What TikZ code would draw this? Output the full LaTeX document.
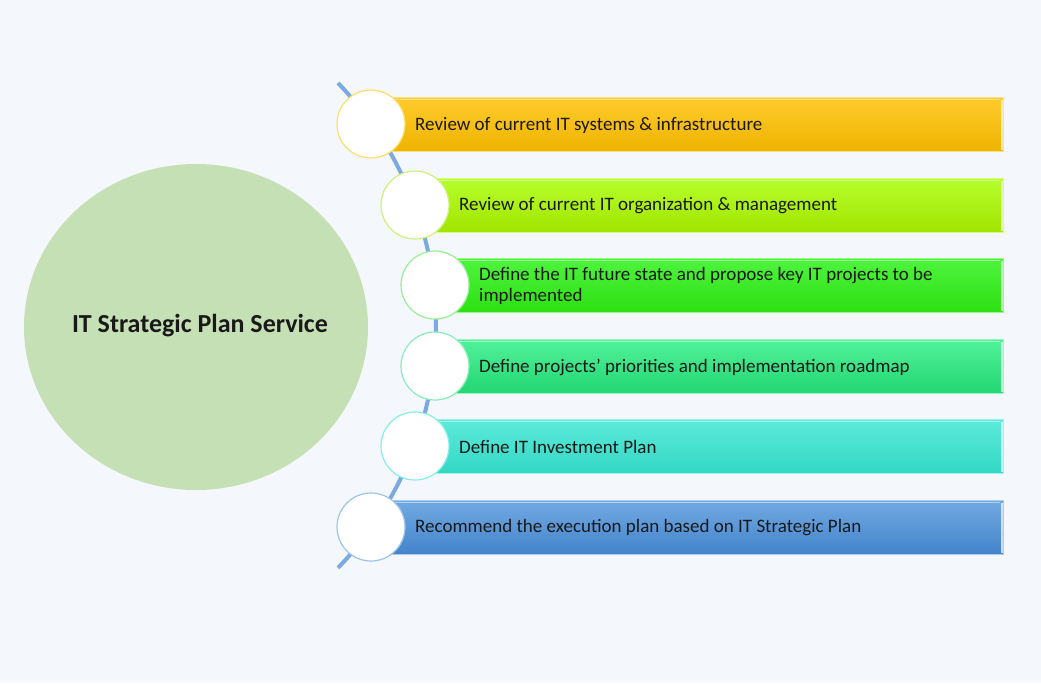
\documentclass[tikz,border=0pt]{standalone}
\usepackage{fontspec}
\setmainfont{Carlito}
\usetikzlibrary{shapes.geometric,calc}
\definecolor{bg}{HTML}{F4F7FC}
\definecolor{maing}{HTML}{C5E0B4}
\definecolor{arcb}{HTML}{7CAAE0}
\definecolor{aT}{HTML}{FFCB2E}\definecolor{aB}{HTML}{EFB400}\definecolor{aL}{HTML}{FFDD66}
\definecolor{bT}{HTML}{B6FF2C}\definecolor{bB}{HTML}{A2E400}\definecolor{bL}{HTML}{CCF27A}
\definecolor{cT}{HTML}{4EF43E}\definecolor{cB}{HTML}{2EE012}\definecolor{cL}{HTML}{96F096}
\definecolor{dT}{HTML}{52F29A}\definecolor{dB}{HTML}{22D672}\definecolor{dL}{HTML}{86EEB6}
\definecolor{eT}{HTML}{5EEADA}\definecolor{eB}{HTML}{32D8C4}\definecolor{eL}{HTML}{86EEE8}
\definecolor{fT}{HTML}{72AAE2}\definecolor{fB}{HTML}{4484CC}\definecolor{fL}{HTML}{9CC4EA}
\tikzset{
  barbox/.style 2 args={rectangle, anchor=west, inner sep=0pt, minimum height=54pt,
     top color=#1, bottom color=#2, draw=#1!60!white, line width=0.8pt},
  dot/.style={circle, minimum size=68pt, inner sep=0pt, fill=white, draw=#1, line width=1.2pt},
  bartext/.style={anchor=west, inner sep=0pt, font=\fontsize{19}{21}\selectfont,
     text width=520pt, align=flush left, text=black!90},
}
\newcommand{\stepbar}[7]{%
  \node[barbox={#4}{#5}, minimum width={1003pt-#3pt}] (b#1) at (#3,#2) {};
  \draw[white, opacity=0.45, line width=1.2pt] ($(b#1.north west)+(0,3)$) -- ($(b#1.north east)+(-4,3)$);
  \draw[white, opacity=0.7, line width=1.5pt] ($(b#1.north east)+(-2,3)$) -- ($(b#1.south east)+(-2,-1)$);
  \node[dot=#6] (c#1) at (#3,#2) {};
  \node[bartext] (t#1) at (#3+44,#2+1) {#7};
}
\begin{document}
\begin{tikzpicture}[x=1pt,y=-1pt]
\fill[bg] (0,0) rectangle (1041,683);
\useasboundingbox (0,0) rectangle (1041,683);
\node[ellipse, fill=maing, minimum width=344pt, minimum height=326pt, inner sep=0pt] (main) at (196,327) {};
\node[font=\fontsize{26}{30}\selectfont\bfseries, text=black!90, inner sep=0pt] (title) at (200,326) {IT Strategic Plan Service};
\coordinate (arcs) at (338,83);
\draw[arcb, line width=4pt] (arcs) arc[start angle=-44, end angle=44, radius=349];
\stepbar{1}{124}{371}{aT}{aB}{aL}{Review of current IT systems \& infrastructure}
\stepbar{2}{205}{415}{bT}{bB}{bL}{Review of current IT organization \& management}
\stepbar{3}{285}{435}{cT}{cB}{cL}{Define the IT future state and propose key IT projects to be\\implemented}
\stepbar{4}{366}{435}{dT}{dB}{dL}{Define projects’ priorities and implementation roadmap}
\stepbar{5}{446}{415}{eT}{eB}{eL}{Define IT Investment Plan}
\stepbar{6}{527}{371}{fT}{fB}{fL}{Recommend the execution plan based on IT Strategic Plan}
\end{tikzpicture}
\end{document}
